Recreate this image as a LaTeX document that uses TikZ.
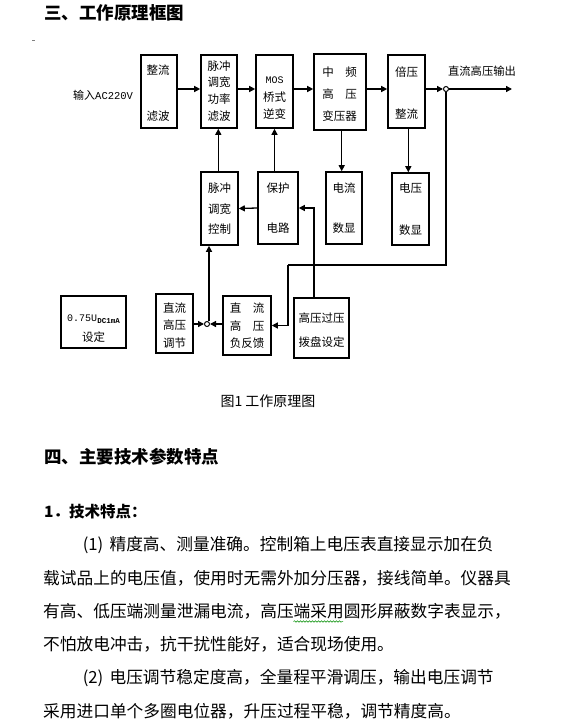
\documentclass[tikz,border=0pt]{standalone}
\usepackage{fontspec}
\setmainfont{Noto Sans CJK SC}
\newfontfamily\monof{Liberation Mono}
\usetikzlibrary{arrows.meta,decorations.pathmorphing}
\begin{document}
\begin{tikzpicture}[x=1pt,y=-1pt,
  box/.style={draw, line width=1.6pt, inner sep=0pt},
  conn/.style={line width=1.3pt, -{Triangle[length=6pt,width=6pt]}},
  wire/.style={line width=1.3pt},
  dot/.style={circle, draw, line width=1pt, fill=white, inner sep=0pt, minimum size=5pt},
  lbl/.style={inner sep=0pt, align=center},
  body/.style={inner sep=0pt, anchor=west, font=\fontsize{16.7pt}{20pt}\selectfont}]
\useasboundingbox (0,0) rectangle (567,728);

% headings
\node[anchor=west, inner sep=0pt, font=\bfseries\fontsize{17.5pt}{20pt}\selectfont] (title) at (44,13) {三、工作原理框图};
\draw[gray, line width=0.8pt] (32,40) -- (34.5,40);

% top row boxes
\node[box, minimum width=36pt, minimum height=73pt] (b1) at (159,91.5) {};
\node[box, minimum width=36pt, minimum height=73pt] (b2) at (219,91.5) {};
\node[box, minimum width=37pt, minimum height=73pt] (b3) at (274.5,91.5) {};
\node[box, minimum width=52pt, minimum height=76pt] (b4) at (340,92) {};
\node[box, minimum width=37pt, minimum height=73pt] (b5) at (406.5,91.5) {};
% middle row
\node[box, minimum width=37pt, minimum height=73pt] (c1) at (219.5,208.5) {};
\node[box, minimum width=40pt, minimum height=72pt] (c2) at (278,208) {};
\node[box, minimum width=36pt, minimum height=72pt] (c3) at (344,208) {};
\node[box, minimum width=37pt, minimum height=72pt] (c4) at (410.5,209) {};
% bottom row
\node[box, minimum width=65pt, minimum height=52pt] (d1) at (93.5,322) {};
\node[box, minimum width=37pt, minimum height=59pt] (d2) at (174.5,323.5) {};
\node[box, minimum width=48pt, minimum height=59pt] (d3) at (247,325.5) {};
\node[box, minimum width=55pt, minimum height=60pt] (d4) at (321.5,328) {};

% texts
\node[lbl, font=\fontsize{11.5pt}{46.7pt}\selectfont] (t1) at (158,93.3) {整流\\滤波};
\node[lbl, font=\fontsize{11.5pt}{16.7pt}\selectfont] (t2) at (219,91) {脉冲\\调宽\\功率\\滤波};
\node[lbl, font=\fontsize{11.5pt}{17.5pt}\selectfont] (t3) at (274.5,98.5) {{\monof\fontsize{10pt}{17.5pt}\selectfont MOS}\\桥式\\逆变};
\node[lbl, font=\fontsize{11.5pt}{21.8pt}\selectfont] (t4) at (339.5,94.2) {中　频\\高　压\\变压器};
\node[lbl, font=\fontsize{11.5pt}{41.7pt}\selectfont] (t5) at (406.5,93.2) {倍压\\整流};
\node[lbl, font=\fontsize{11.5pt}{20.5pt}\selectfont] (t6) at (219.5,208.8) {脉冲\\调宽\\控制};
\node[lbl, font=\fontsize{11.5pt}{40pt}\selectfont] (t7) at (278,208.3) {保护\\电路};
\node[lbl, font=\fontsize{11.5pt}{40pt}\selectfont] (t8) at (344,208.3) {电流\\数显};
\node[lbl, font=\fontsize{11.5pt}{41.7pt}\selectfont] (t9) at (410.5,209) {电压\\数显};
\node[lbl, font=\fontsize{11.5pt}{19.5pt}\selectfont] (t10) at (93.5,328.7) {{\monof\fontsize{10pt}{19.5pt}\selectfont 0.75U\raisebox{-2pt}{\fontsize{7.5pt}{8pt}\selectfont\bfseries DC1mA}}\\设定};
\node[lbl, font=\fontsize{11.5pt}{17.8pt}\selectfont] (t11) at (174.5,325.5) {直流\\高压\\调节};
\node[lbl, font=\fontsize{11.5pt}{17.5pt}\selectfont] (t12) at (247,325.8) {直　流\\高　压\\负反馈};
\node[lbl, font=\fontsize{11.5pt}{23.4pt}\selectfont] (t13) at (321.5,330) {高压过压\\拨盘设定};

\node[inner sep=0pt, anchor=west] (inp) at (73,95) {\fontsize{11pt}{13pt}\selectfont 输入{\monof\fontsize{10.5pt}{13pt}\selectfont AC220V}};
\node[inner sep=0pt, font=\fontsize{11.3pt}{13pt}\selectfont] (outl) at (482,71) {直流高压输出};

% junctions
\node[dot] (o1) at (446,89) {};
\node[dot] (o2) at (207,324) {};
\coordinate (outend) at (512,89);
\coordinate (fb) at (288,265);

% connectors top row
\draw[conn] (b1.east |- o1) -- (b2.west |- o1);
\draw[conn] (b2.east |- o1) -- (b3.west |- o1);
\draw[conn] (b3.east |- o1) -- (b4.west |- o1);
\draw[conn] (b4.east |- o1) -- (b5.west |- o1);
\draw[conn] (b5.east |- o1) -- (o1);
\draw[conn] (o1) -- (outend);
% verticals
\draw[conn] ([xshift=1.7pt]b4.south) -- ([xshift=1.7pt]b4.south |- c3.north);
\draw[conn] ([xshift=1.8pt]b5.south) -- ([xshift=1.8pt]b5.south |- c4.north);
\draw[conn] ([xshift=-1.2pt]c1.north) -- ([xshift=-1.2pt]c1.north |- b2.south);
\draw[conn] (b3.south |- c2.north) -- (b3.south);
\draw[conn] (c2.west) -- (c1.east);
% feedback
\draw[wire] (o1) |- (fb);
\draw[conn] (fb) |- (d3.east);
\draw[conn] ([xshift=-7.5pt]d4.north) |- (c2.east);
\draw[conn] (d2.east |- o2) -- (o2);
\draw[conn] (d3.west |- o2) -- (o2);
\draw[conn] ([xshift=2pt]o2.north) -- ([xshift=2pt]o2.north |- c1.south);

% caption and text
\node[inner sep=0pt, font=\fontsize{14pt}{16pt}\selectfont] (cap) at (268,401.5) {图1 工作原理图};
\node[anchor=west, inner sep=0pt, font=\bfseries\fontsize{17.5pt}{20pt}\selectfont] (h4) at (44,456.5) {四、主要技术参数特点};
\node[anchor=west, inner sep=0pt, font=\bfseries\fontsize{15.5pt}{18pt}\selectfont] (h41) at (44,512) {1．技术特点：};

\node[body] (p1) at (76.4,545) {\makebox[33pt][c]{(1)}精度高、测量准确。控制箱上电压表直接显示加在负};
\node[body] (p2) at (43,578) {载试品上的电压值，使用时无需外加分压器，接线简单。仪器具};
\node[body] (p3) at (43,611) {有高、低压端测量泄漏电流，高压端采用圆形屏蔽数字表显示，};
\node[body] (p4) at (43,644) {不怕放电冲击，抗干扰性能好，适合现场使用。};
\node[body] (p5) at (76.4,678) {\makebox[33pt][c]{(2)}电压调节稳定度高，全量程平滑调压，输出电压调节};
\node[body] (p6) at (43,711) {采用进口单个多圈电位器，升压过程平稳，调节精度高。};
\draw[green!55!black, line width=0.5pt, decorate, decoration={snake, amplitude=0.8pt, segment length=3pt}] (293.5,621.5) -- (343,621.5);
\end{tikzpicture}
\end{document}
